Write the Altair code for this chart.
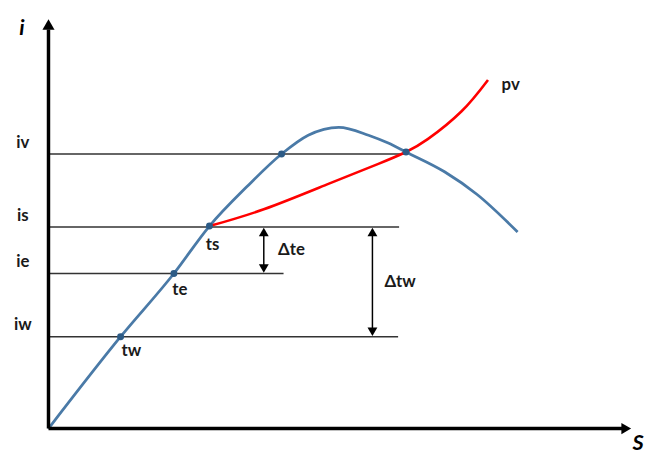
import altair as alt
import pandas as pd

# ---- data (diagram units; S horizontal, i vertical) ----
blue_S = [0, 73, 127, 163, 201, 236, 263, 294, 324, 344, 362, 401, 434, 475]
blue_i = [0, 93, 157, 205, 245, 278, 297, 305, 297, 289, 280, 260, 237, 199]

red_S = [163, 218, 284, 334, 362, 384, 418, 445]
red_i = [205, 222, 248, 268, 280, 293, 321, 353]

level_names = ["iv", "is", "ie", "iw"]
level_i = [278, 204, 157, 93]
level_end = [361, 355, 238, 354]
level_label_i = [289, 215, 169, 105]

pt_S = [73, 127, 163, 236, 362]
pt_i = [93, 157, 205, 278, 280]

pt_labels = ["tw", "te", "ts", "pv"]
pt_label_S = [84, 133, 166, 468]
pt_label_i = [78, 140, 186, 348]

delta_labels = ["Δte", "Δtw"]
delta_S = [218, 328]
delta_top = [204, 204]
delta_bottom = [157, 93]
delta_label_S = [246, 356]
delta_label_i = [181, 148]

axis_S_max = 590
axis_i_max = 415

FONT = "Lato"

xs = alt.Scale(domain=[-41, 605], nice=False, zero=False)
ys = alt.Scale(domain=[-25, 423], nice=False, zero=False)


def X(f="S"):
    return alt.X(f"{f}:Q", scale=xs, axis=None)


def Y(f="i"):
    return alt.Y(f"{f}:Q", scale=ys, axis=None)


blue_df = pd.DataFrame({"S": blue_S, "i": blue_i})
red_df = pd.DataFrame({"S": red_S, "i": red_i})
lev_df = pd.DataFrame({"name": level_names, "i": level_i, "S0": [0] * 4,
                       "S1": level_end, "li": level_label_i, "lS": [-26] * 4})
pt_df = pd.DataFrame({"S": pt_S, "i": pt_i})
ptl_df = pd.DataFrame({"t": pt_labels, "S": pt_label_S, "i": pt_label_i})
d_df = pd.DataFrame({"t": delta_labels, "S": delta_S, "top": delta_top,
                     "bot": delta_bottom, "lS": delta_label_S, "li": delta_label_i})
d_df["top_c"] = d_df["top"] - 5
d_df["bot_c"] = d_df["bot"] + 5

axes_df = pd.DataFrame({"S": [0], "i": [0], "S1": [axis_S_max - 9], "i1": [axis_i_max - 11]})
yarrow_df = pd.DataFrame({"S": [0], "i": [axis_i_max - 6]})
xarrow_df = pd.DataFrame({"S": [axis_S_max - 5], "i": [0]})
ax_lab_df = pd.DataFrame({"t": ["i", "S"], "S": [-27, 597], "i": [405, -15]})

levels = alt.Chart(lev_df).mark_rule(color="#333333", strokeWidth=1.5).encode(
    x=X("S0"), x2="S1", y=Y("i"))
level_text = alt.Chart(lev_df).mark_text(font=FONT, fontWeight="bold", fontSize=17,
                                         color="#1a1a1a").encode(
    x=X("lS"), y=Y("li"), text="name:N")

yaxis = alt.Chart(axes_df).mark_rule(color="black", strokeWidth=3.5).encode(
    x=X("S"), y=Y("i"), y2="i1")
xaxis = alt.Chart(axes_df).mark_rule(color="black", strokeWidth=3.5).encode(
    x=X("S"), x2="S1", y=Y("i"))
yarrow = alt.Chart(yarrow_df).mark_point(shape="triangle-up", filled=True, size=150,
                                         color="black", opacity=1).encode(x=X(), y=Y())
xarrow = alt.Chart(xarrow_df).mark_point(shape="triangle-right", filled=True, size=130,
                                         color="black", opacity=1).encode(x=X(), y=Y())

blue = alt.Chart(blue_df).mark_line(color="#4a7aa7", strokeWidth=2.8,
                                    interpolate="monotone").encode(x=X(), y=Y(), order="S:Q")
red = alt.Chart(red_df).mark_line(color="#ff0000", strokeWidth=2.6,
                                  interpolate="natural").encode(x=X(), y=Y(), order="S:Q")
pts = alt.Chart(pt_df).mark_point(filled=True, size=50, color="#2d5b86",
                                  opacity=1).encode(x=X(), y=Y())
pt_text = alt.Chart(ptl_df).mark_text(font=FONT, fontWeight="bold", fontSize=17,
                                      color="#1a1a1a").encode(x=X(), y=Y(), text="t:N")

d_rule = alt.Chart(d_df).mark_rule(color="black", strokeWidth=1.5).encode(
    x=X("S"), y=Y("top_c"), y2="bot_c")
d_up = alt.Chart(d_df).mark_point(shape="triangle-up", filled=True, size=100,
                                  color="black", opacity=1).encode(x=X("S"), y=Y("top_c"))
d_down = alt.Chart(d_df).mark_point(shape="triangle-down", filled=True, size=100,
                                    color="black", opacity=1).encode(x=X("S"), y=Y("bot_c"))
d_text = alt.Chart(d_df).mark_text(font=FONT, fontWeight="bold", fontSize=17,
                                   color="#1a1a1a").encode(x=X("lS"), y=Y("li"), text="t:N")

ax_text = alt.Chart(ax_lab_df).mark_text(font=FONT, fontWeight="bold", fontStyle="italic",
                                         fontSize=22, color="black").encode(
    x=X(), y=Y(), text="t:N")

chart = alt.layer(
    levels, level_text, blue, red, pts, pt_text, d_rule, d_up, d_down, d_text,
    yaxis, xaxis, yarrow, xarrow, ax_text
).properties(
    width=646, height=448, padding=0, autosize=alt.AutoSizeParams(type="none")
).configure_view(stroke=None)

chart.save("out.html", embed_options={"renderer": "svg", "actions": False})
